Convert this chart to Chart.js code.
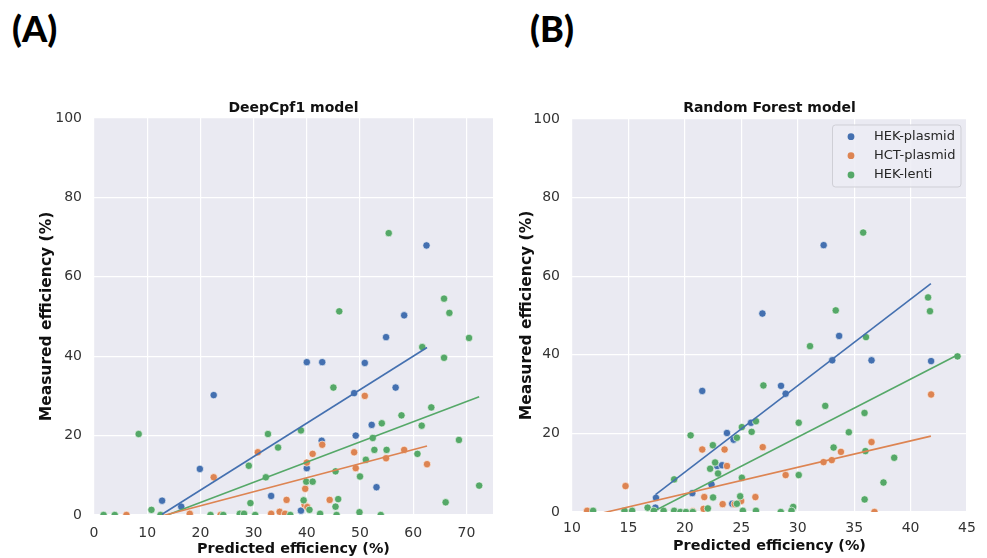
<!DOCTYPE html>
<html>
<head>
<meta charset="utf-8">
<script src="https://cdn.jsdelivr.net/npm/chart.js@4.4.0/dist/chart.umd.min.js"></script>
<style>
  body { margin: 0; background: #fff; width: 987px; height: 558px; position: relative; overflow: hidden; }
  canvas { position: absolute; top: 0; }
  #chartA { left: 0; }
  #chartB { left: 500px; }
  .panel-label { position: absolute; top: 7px; font-family: Lato, "Open Sans", sans-serif; font-weight: 900; font-size: 36px; line-height: 42px; color: #000; }
</style>
</head>
<body>
<div class="panel-label" style="left:12px">(A)</div>
<div class="panel-label" style="left:530px">(B)</div>
<canvas id="chartA" width="500" height="558"></canvas>
<canvas id="chartB" width="487" height="558"></canvas>
<script>
// Group names and colours (seaborn "deep")
const groups = ["HEK-plasmid", "HCT-plasmid", "HEK-lenti"];
const groupColors = ["#4470B0", "#DD8452", "#55A868"];

// Panel A - DeepCpf1 model: [predicted, measured]
const deepHekPlasmid = [
  [62.5, 67.9], [22.5, 30.2], [58.3, 50.3], [54.9, 44.8], [40.0, 38.5], [42.9, 38.5],
  [50.9, 38.3], [56.7, 32.1], [48.9, 30.7], [19.9, 11.6], [12.8, 3.6], [16.4, 2.1],
  [33.3, 4.8], [52.2, 22.7], [49.2, 20.0], [42.8, 18.7], [40.0, 11.8], [53.1, 7.0], [38.9, 1.1]
];
const deepHctPlasmid = [
  [50.9, 30.0], [22.5, 9.5], [6.1, 0], [18.0, 0.3], [23.8, 0], [30.8, 15.8], [36.2, 3.8],
  [33.3, 0.3], [34.9, 0.8], [42.9, 17.7], [41.1, 15.4], [48.9, 15.8], [58.3, 16.4],
  [54.9, 14.3], [40.0, 13.2], [62.6, 12.8], [49.2, 11.8], [39.7, 6.6], [44.3, 3.8],
  [39.6, 2.6], [40.1, 2.0], [35.9, 0.3], [28.0, 0.3]
];
const deepHekLenti = [
  [55.4, 71.0], [65.8, 54.5], [66.8, 50.9], [46.1, 51.3], [70.5, 44.6], [61.7, 42.3],
  [65.8, 39.6], [45.0, 32.1], [8.4, 20.4], [10.8, 1.3], [1.8, 0], [3.9, 0], [12.5, 0],
  [21.9, 0], [24.3, 0], [27.4, 0.3], [30.3, 0], [29.1, 12.4], [32.7, 20.4], [34.6, 17.0],
  [29.4, 3.0], [32.3, 9.5], [63.4, 27.1], [57.8, 25.1], [54.1, 23.1], [61.6, 22.5],
  [38.9, 21.3], [52.4, 19.4], [68.6, 18.9], [52.7, 16.4], [55.0, 16.4], [60.8, 15.4],
  [51.1, 13.9], [45.4, 11.0], [50.0, 9.7], [39.9, 8.4], [41.1, 8.4], [72.4, 7.4],
  [39.4, 3.7], [45.9, 4.0], [66.1, 3.2], [45.4, 2.1], [40.5, 1.3], [36.9, 0], [42.5, 0.3],
  [45.6, 0], [49.9, 0.7], [53.9, 0], [28.2, 0.3]
];
// regression line end points
const deepFitHekPlasmid = [[12.8, 0.2], [62.6, 42.2]];
const deepFitHctPlasmid = [[6.1, -2.6], [62.6, 17.4]];
const deepFitHekLenti = [[1.8, -6.1], [72.4, 29.8]];

// Panel B - Random Forest model: [predicted, measured]
const rfHekPlasmid = [
  [32.3, 67.9], [26.87, 50.5], [21.54, 30.8], [33.67, 44.8], [33.06, 38.6], [36.54, 38.6],
  [41.82, 38.4], [28.52, 32.1], [28.93, 30.1], [17.44, 3.6], [17.39, 1.1], [20.66, 4.8],
  [22.36, 7.0], [22.86, 11.7], [23.3, 11.9], [23.73, 20.1], [24.32, 18.4], [25.86, 22.7],
  [24.2, 2.1]
];
const rfHctPlasmid = [
  [41.82, 29.9], [11.34, 0.3], [14.74, 6.6], [20.7, 0.2], [21.54, 15.9], [21.72, 3.8],
  [21.66, 0.8], [23.52, 15.9], [23.73, 11.7], [23.35, 2.0], [24.42, 2.0], [24.99, 2.8],
  [26.25, 3.8], [26.9, 16.5], [36.54, 17.8], [33.83, 15.3], [32.29, 12.7], [33.02, 13.2],
  [28.93, 9.4], [36.8, 0]
];
const rfHekLenti = [
  [35.8, 71.1], [41.55, 54.6], [41.72, 51.1], [33.37, 51.3], [36.05, 44.5], [31.09, 42.2],
  [44.16, 39.6], [26.96, 32.2], [32.44, 27.0], [35.92, 25.2], [30.09, 22.7], [34.53, 20.3],
  [33.18, 16.4], [36.0, 15.5], [38.55, 13.8], [30.09, 9.4], [37.6, 7.5], [35.93, 3.2],
  [29.6, 1.3], [28.5, 0], [29.45, 0.3], [11.87, 0.3], [14.65, 0.3], [15.33, 0.3],
  [16.7, 1.1], [17.25, 0.3], [18.12, 0.3], [19.05, 8.3], [19.05, 0.3], [19.6, 0],
  [20.1, 0], [20.7, 0], [20.51, 19.5], [22.04, 0.9], [22.48, 17.0], [22.24, 11.0],
  [22.68, 12.6], [22.5, 3.7], [22.94, 9.8], [24.61, 18.9], [24.61, 2.1], [24.9, 4.0],
  [25.05, 21.6], [25.05, 8.7], [25.14, 0.3], [25.92, 20.4], [26.3, 23.1], [26.3, 0.3]
];
const rfFitHekPlasmid = [[17.4, 4.4], [41.8, 58.1]];
const rfFitHctPlasmid = [[11.3, -1.2], [41.8, 19.3]];
const rfFitHekLenti = [[11.9, -7.7], [44.2, 40.0]];

// Axis ticks
const yTicks = [0, 20, 40, 60, 80, 100];
const deepXTicks = [0, 10, 20, 30, 40, 50, 60, 70];
const rfXTicks = [10, 15, 20, 25, 30, 35, 40, 45];

const FONT = "'DejaVu Sans', sans-serif";

function toXY(pts) {
  return pts.map(([x, y]) => ({ x, y }));
}

function scatterSet(label, pts, color, order) {
  return {
    label, data: toXY(pts), backgroundColor: color, borderColor: "#ffffff",
    borderWidth: 0.6, pointRadius: 3.7, pointHoverRadius: 3.7, clip: 0, order
  };
}

function fitSet(pts, color) {
  return {
    label: "fit", data: toXY(pts), showLine: true, borderColor: color, borderWidth: 1.6,
    pointRadius: 0, fill: false, clip: 0, order: 0
  };
}

// grey plot background + title centred over the plot area (+ legend box on panel B)
const panelDecor = {
  id: "panelDecor",
  beforeDraw(chart) {
    const { ctx, chartArea: a } = chart;
    ctx.save();
    ctx.fillStyle = "#EAEAF2";
    ctx.fillRect(a.left, a.top, a.right - a.left, a.bottom - a.top);
    ctx.restore();
  },
  afterDraw(chart, args, opts) {
    const { ctx, chartArea: a } = chart;
    ctx.save();
    ctx.font = "bold 14px " + FONT;
    ctx.fillStyle = "#111";
    ctx.textAlign = "center";
    ctx.textBaseline = "middle";
    ctx.fillText(opts.title, (a.left + a.right) / 2, opts.titleY);
    if (opts.legend) {
      const L = opts.legend;
      ctx.beginPath();
      ctx.roundRect(L.x, L.y, L.w, L.h, 3);
      ctx.fillStyle = "rgba(236,236,244,0.85)";
      ctx.fill();
      ctx.strokeStyle = "#cfcfd6";
      ctx.lineWidth = 1;
      ctx.stroke();
      ctx.font = "13px " + FONT;
      ctx.textAlign = "left";
      groups.forEach((g, i) => {
        const yy = L.rows[i];
        ctx.beginPath();
        ctx.arc(L.markerX, yy, 3.4, 0, Math.PI * 2);
        ctx.fillStyle = groupColors[i];
        ctx.fill();
        ctx.fillStyle = "#262626";
        ctx.fillText(g, L.textX, yy);
      });
    }
    ctx.restore();
  }
};

function makePanel(canvasId, cfg) {
  const datasets = [
    fitSet(cfg.fits[0], groupColors[0]),
    fitSet(cfg.fits[1], groupColors[1]),
    fitSet(cfg.fits[2], groupColors[2]),
    scatterSet(groups[2], cfg.points[2], groupColors[2], 1),
    scatterSet(groups[1], cfg.points[1], groupColors[1], 2),
    scatterSet(groups[0], cfg.points[0], groupColors[0], 3)
  ];
  new Chart(document.getElementById(canvasId), {
    type: "scatter",
    data: { datasets },
    options: {
      responsive: false,
      animation: false,
      layout: { padding: cfg.padding },
      plugins: {
        legend: { display: false },
        tooltip: { enabled: false },
        panelDecor: { title: cfg.title, titleY: cfg.titleY, legend: cfg.legend }
      },
      scales: {
        x: {
          type: "linear", min: cfg.xTicks[0], max: cfg.xMax,
          afterFit: s => { s.height = cfg.xAxisHeight; },
          afterBuildTicks: s => { s.ticks = cfg.xTicks.map(v => ({ value: v })); },
          border: { display: false },
          grid: { color: "#ffffff", lineWidth: 1.2, drawTicks: false },
          ticks: { padding: cfg.xTickPad, color: "#333", font: { family: FONT, size: 14 } },
          title: {
            display: true, text: "Predicted efficiency (%)", color: "#111",
            font: { family: FONT, size: 14.4, weight: "bold" }, padding: { top: 0, bottom: cfg.xTitlePad }
          }
        },
        y: {
          type: "linear", min: 0, max: 100,
          afterFit: s => { s.width = cfg.yAxisWidth; },
          afterBuildTicks: s => { s.ticks = yTicks.map(v => ({ value: v })); },
          border: { display: false },
          grid: { color: "#ffffff", lineWidth: 1.2, drawTicks: false },
          ticks: { padding: 12, color: "#333", font: { family: FONT, size: 14 } },
          title: {
            display: true, text: "Measured efficiency (%)", color: "#111",
            font: { family: FONT, size: 15.5, weight: "bold" }, padding: { top: cfg.yTitlePad, bottom: 0 }
          }
        }
      }
    },
    plugins: [panelDecor]
  });
}

makePanel("chartA", {
  title: "DeepCpf1 model", titleY: 108,
  points: [deepHekPlasmid, deepHctPlasmid, deepHekLenti],
  fits: [deepFitHekPlasmid, deepFitHctPlasmid, deepFitHekLenti],
  xTicks: deepXTicks, xMax: 75,
  padding: { left: 0, top: 118, right: 7, bottom: 0 },
  yAxisWidth: 94, xAxisHeight: 43, xTickPad: 10, xTitlePad: 0.4, yTitlePad: 37.7,
  legend: null
});

makePanel("chartB", {
  title: "Random Forest model", titleY: 108,
  points: [rfHekPlasmid, rfHctPlasmid, rfHekLenti],
  fits: [rfFitHekPlasmid, rfFitHctPlasmid, rfFitHekLenti],
  xTicks: rfXTicks, xMax: 45,
  padding: { left: 0, top: 119, right: 20, bottom: 0 },
  yAxisWidth: 72, xAxisHeight: 46, xTickPad: 8, xTitlePad: 3.4, yTitlePad: 17.7,
  legend: { x: 332.5, y: 125, w: 128.5, h: 62, markerX: 351, textX: 374, rows: [136.7, 155.7, 175] }
});
</script>
</body>
</html>
